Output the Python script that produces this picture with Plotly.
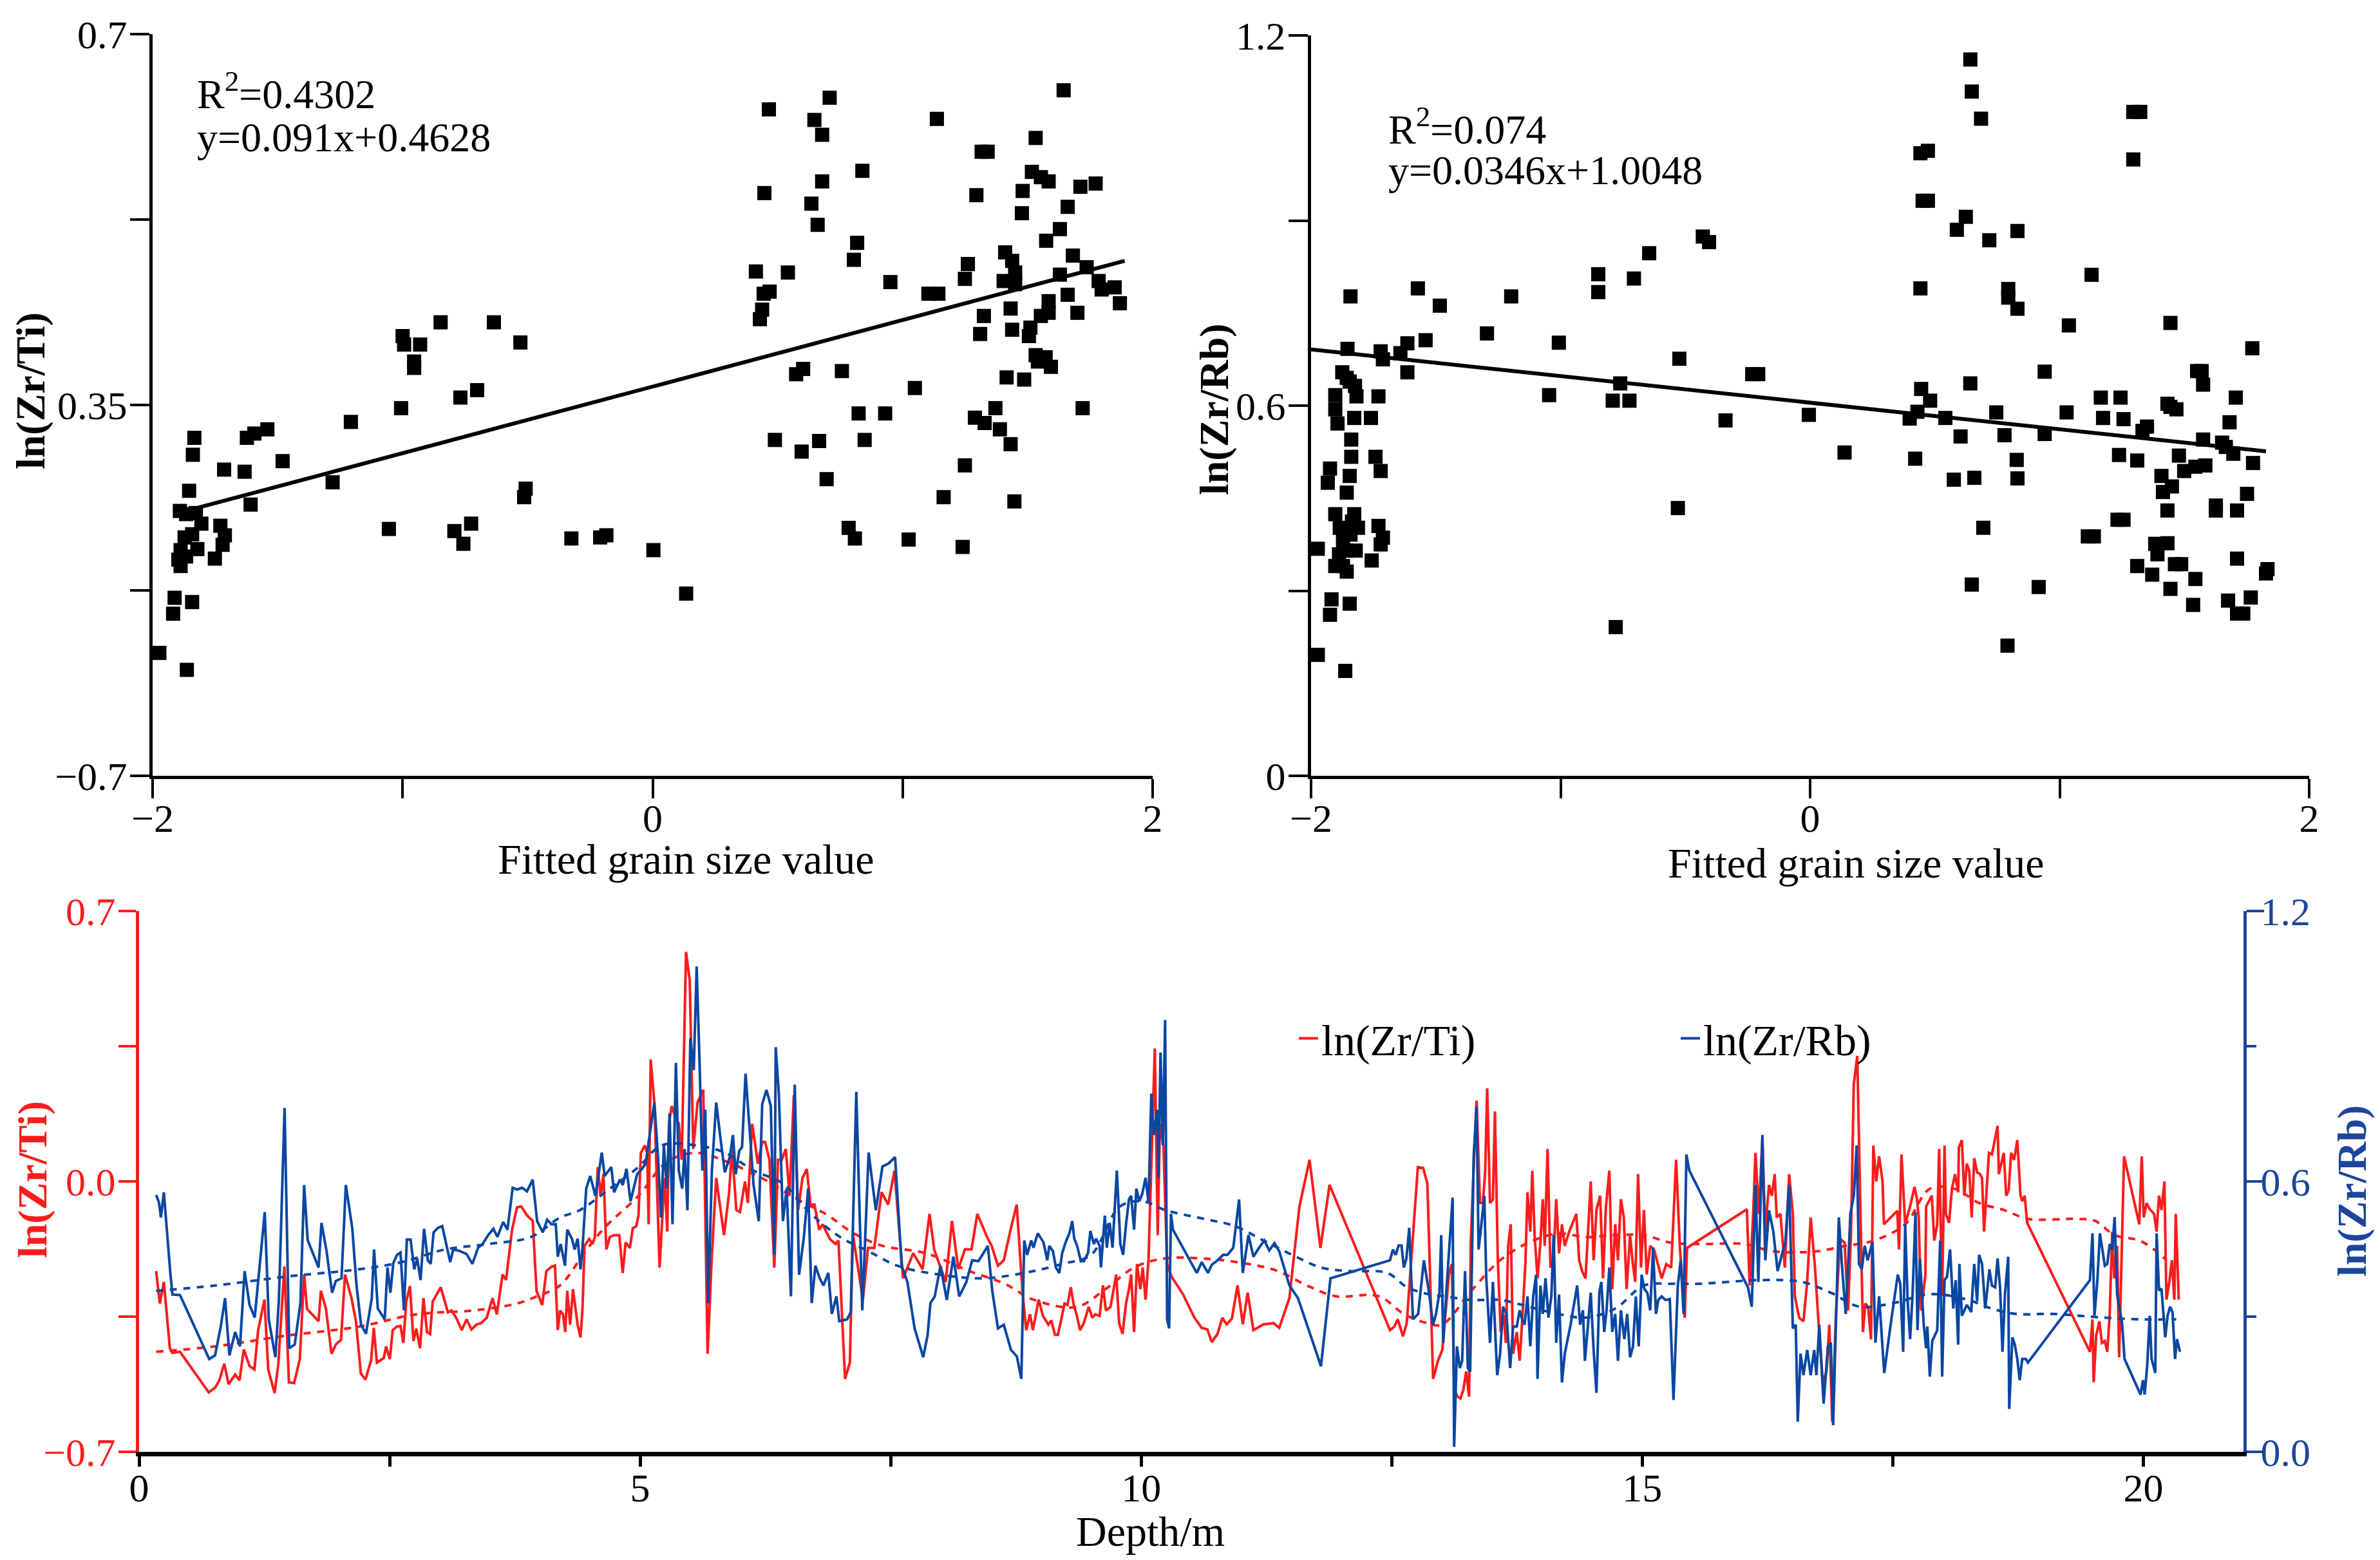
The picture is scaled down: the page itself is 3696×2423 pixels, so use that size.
import plotly.graph_objects as go

# ---------------- data ----------------
# Top-left scatter: fitted grain size value vs ln(Zr/Ti)
ti_scatter = [
    (1.644, 0.647), (0.708, 0.640), (0.465, 0.629), (1.137, 0.620), (0.647, 0.619), (0.678, 0.605),
    (1.532, 0.602), (1.316, 0.589), (1.340, 0.589), (0.839, 0.571), (1.517, 0.570), (1.553, 0.565),
    (1.584, 0.561), (0.678, 0.561), (1.772, 0.559), (1.711, 0.556), (1.480, 0.552), (0.447, 0.550),
    (1.295, 0.548), (0.635, 0.540), (1.660, 0.537), (1.477, 0.531), (0.660, 0.520), (1.629, 0.516),
    (1.574, 0.505), (0.818, 0.503), (1.410, 0.494), (1.681, 0.491), (0.805, 0.487), (1.438, 0.486),
    (1.261, 0.483), (1.736, 0.480), (0.413, 0.476), (0.541, 0.475), (1.450, 0.475), (1.629, 0.473),
    (1.249, 0.469), (1.404, 0.467), (0.951, 0.466), (1.784, 0.467), (1.450, 0.464), (1.848, 0.461),
    (1.796, 0.459), (0.468, 0.457), (1.103, 0.455), (1.143, 0.455), (0.444, 0.455), (1.660, 0.454),
    (1.869, 0.446), (1.584, 0.448), (1.432, 0.441), (1.584, 0.437), (0.438, 0.440), (1.699, 0.437),
    (1.325, 0.434), (1.553, 0.434), (0.429, 0.431), (1.511, 0.423), (1.438, 0.421), (1.310, 0.417),
    (1.505, 0.415), (1.532, 0.397), (1.572, 0.395), (1.593, 0.386), (1.541, 0.391), (0.602, 0.384),
    (0.574, 0.379), (0.757, 0.382), (1.416, 0.376), (1.486, 0.374), (1.049, 0.366), (1.720, 0.347),
    (1.371, 0.347), (0.824, 0.342), (0.930, 0.342), (1.289, 0.338), (1.328, 0.333), (1.389, 0.327),
    (0.489, 0.317), (0.666, 0.316), (0.848, 0.317), (1.432, 0.313), (0.596, 0.306), (1.249, 0.293),
    (0.696, 0.280), (1.164, 0.263), (1.447, 0.259), (0.784, 0.234), (0.809, 0.224), (1.024, 0.223),
    (1.240, 0.216),
    (-0.848, 0.428), (-0.635, 0.428), (-1.000, 0.415), (-0.994, 0.407), (-0.930, 0.407), (-0.529, 0.409),
    (-0.954, 0.391), (-0.954, 0.385), (-0.702, 0.364), (-0.769, 0.357), (-1.006, 0.347), (-1.207, 0.334),
    (-1.480, 0.297), (-1.280, 0.277), (-0.508, 0.271), (-0.514, 0.263), (-1.055, 0.233), (-0.793, 0.231),
    (-0.726, 0.238), (-0.757, 0.219), (-0.325, 0.224), (-0.210, 0.225), (-0.185, 0.227), (0.003, 0.213),
    (0.134, 0.172),
    (-1.833, 0.319), (-1.839, 0.303), (-1.623, 0.319), (-1.593, 0.323), (-1.541, 0.327), (-1.714, 0.289),
    (-1.632, 0.287), (-1.608, 0.256), (-1.854, 0.269), (-1.891, 0.250), (-1.866, 0.247), (-1.827, 0.248),
    (-1.805, 0.238), (-1.729, 0.236), (-1.872, 0.225), (-1.842, 0.228), (-1.711, 0.227), (-1.720, 0.218),
    (-1.888, 0.213), (-1.821, 0.214), (-1.897, 0.204), (-1.866, 0.207), (-1.888, 0.198), (-1.751, 0.205),
    (-1.912, 0.168), (-1.842, 0.164), (-1.918, 0.153), (-1.973, 0.116), (-1.863, 0.100),
]
ti_fit_x = [-1.851, 1.888]
ti_fit_y = [0.251, 0.486]

# Top-right scatter: fitted grain size value vs ln(Zr/Rb)
rb_scatter = [
    (0.642, 1.161), (0.648, 1.109), (0.685, 1.065), (1.295, 1.076), (1.323, 1.076), (1.295, 0.999),
    (0.442, 1.009), (0.472, 1.013), (0.451, 0.932), (0.472, 0.932), (0.624, 0.906), (0.588, 0.885),
    (0.831, 0.883), (0.718, 0.868), (-0.430, 0.874), (-0.405, 0.865), (-0.645, 0.847), (-0.849, 0.813),
    (-0.706, 0.806), (-0.849, 0.784), (1.128, 0.812), (0.442, 0.790), (-1.572, 0.790), (0.794, 0.789),
    (-1.842, 0.777), (-1.198, 0.777), (0.794, 0.775), (-1.484, 0.762), (0.831, 0.757), (1.037, 0.730),
    (1.444, 0.734), (-1.295, 0.717), (-1.541, 0.706), (-1.007, 0.702), (-1.614, 0.701), (1.772, 0.693),
    (-1.854, 0.692), (-1.721, 0.688), (-1.642, 0.685), (-1.712, 0.675), (-0.524, 0.676), (-1.614, 0.654),
    (-1.875, 0.654), (-1.857, 0.645), (0.940, 0.655), (-0.232, 0.651), (-0.208, 0.651), (1.551, 0.656),
    (1.569, 0.656), (-1.845, 0.639), (-1.824, 0.632), (0.642, 0.636), (-0.761, 0.636), (1.575, 0.634),
    (0.445, 0.627), (-1.903, 0.617), (-1.818, 0.615), (-1.730, 0.615), (-1.046, 0.617), (1.165, 0.613),
    (1.244, 0.613), (1.706, 0.613), (0.481, 0.608), (-0.791, 0.608), (-0.724, 0.608), (-1.903, 0.594),
    (1.432, 0.603), (1.468, 0.594), (1.444, 0.598), (0.430, 0.590), (0.746, 0.589), (1.028, 0.589),
    (-0.005, 0.585), (-1.827, 0.580), (-1.760, 0.580), (0.542, 0.580), (0.399, 0.579), (1.174, 0.580),
    (1.256, 0.578), (-0.339, 0.576), (-1.894, 0.571), (1.350, 0.566), (1.332, 0.559), (1.681, 0.573),
    (0.940, 0.554), (0.603, 0.550), (0.779, 0.552), (-1.839, 0.545), (1.575, 0.545), (1.651, 0.540),
    (1.666, 0.533), (1.696, 0.522), (0.138, 0.524), (0.421, 0.514), (-1.839, 0.517), (-1.742, 0.517),
    (1.238, 0.520), (1.478, 0.519), (0.828, 0.512), (1.311, 0.511), (1.775, 0.507), (-1.924, 0.498),
    (-1.721, 0.494), (1.499, 0.494), (1.544, 0.501), (1.584, 0.503), (-1.845, 0.486), (1.408, 0.486),
    (0.576, 0.480), (0.658, 0.483), (0.831, 0.482), (-1.933, 0.475), (1.414, 0.460), (-1.857, 0.459),
    (1.450, 0.469), (1.751, 0.457), (-0.530, 0.434), (1.432, 0.430), (1.626, 0.438), (1.711, 0.430),
    (-1.903, 0.424), (-1.827, 0.424), (1.232, 0.415), (1.256, 0.415), (-1.836, 0.412), (1.626, 0.430),
    (0.694, 0.402), (-1.885, 0.402), (-1.812, 0.402), (-1.730, 0.405), (-1.842, 0.391), (-1.712, 0.386),
    (1.113, 0.388), (1.137, 0.388), (-1.872, 0.380), (-1.721, 0.375), (1.383, 0.376), (1.432, 0.377),
    (-1.973, 0.368), (-1.857, 0.365), (-1.821, 0.365), (-1.888, 0.359), (1.392, 0.359), (-1.757, 0.349),
    (1.711, 0.352), (-1.903, 0.340), (-1.872, 0.340), (1.311, 0.340), (1.462, 0.343), (1.487, 0.343),
    (1.833, 0.335), (1.827, 0.328), (-1.857, 0.331), (1.371, 0.326), (1.544, 0.319), (0.648, 0.310),
    (0.916, 0.306), (1.444, 0.303), (-1.918, 0.286), (1.675, 0.284), (1.766, 0.289), (-1.845, 0.279),
    (1.535, 0.277), (-1.924, 0.261), (1.711, 0.263), (1.736, 0.263), (-0.779, 0.241), (0.791, 0.211),
    (-1.973, 0.196), (-1.863, 0.170),
]
rb_fit_x = [-2.0, 1.827]
rb_fit_y = [0.691, 0.526]

# Bottom: depth profile of ln(Zr/Ti)
zr_ti_profile = [
    (0.17, -0.232), (0.207, -0.316), (0.247, -0.26), (0.307, -0.432), (0.333, -0.444), (0.408, -0.441),
    (0.695, -0.546), (0.758, -0.534), (0.801, -0.515), (0.850, -0.472), (0.893, -0.525), (0.959, -0.50),
    (1.002, -0.515), (1.045, -0.435), (1.102, -0.478), (1.151, -0.487), (1.188, -0.385), (1.251, -0.306),
    (1.289, -0.487), (1.352, -0.548), (1.389, -0.474), (1.45, -0.22), (1.495, -0.52), (1.547, -0.522),
    (1.604, -0.46), (1.647, -0.241), (1.676, -0.33), (1.791, -0.362), (1.814, -0.283), (1.865, -0.33),
    (1.92, -0.446), (1.963, -0.422), (2.015, -0.41), (2.055, -0.241), (2.12, -0.302), (2.164, -0.362),
    (2.213, -0.497), (2.259, -0.513), (2.316, -0.462), (2.342, -0.379), (2.373, -0.469), (2.442, -0.457),
    (2.465, -0.427), (2.502, -0.46), (2.531, -0.385), (2.571, -0.376), (2.609, -0.374), (2.637, -0.418),
    (2.666, -0.311), (2.703, -0.271), (2.738, -0.413), (2.766, -0.381), (2.804, -0.432), (2.838, -0.302),
    (2.873, -0.39), (2.904, -0.395), (2.93, -0.311), (3.01, -0.274), (3.082, -0.339), (3.117, -0.334),
    (3.168, -0.355), (3.22, -0.385), (3.268, -0.357), (3.317, -0.383), (3.369, -0.37), (3.412, -0.367),
    (3.469, -0.353), (3.527, -0.302), (3.57, -0.344), (3.627, -0.241), (3.662, -0.255), (3.722, -0.125),
    (3.771, -0.067), (3.814, -0.065), (3.871, -0.088), (3.928, -0.102), (3.966, -0.283), (4.023, -0.32),
    (4.064, -0.232), (4.115, -0.221), (4.15, -0.218), (4.178, -0.385), (4.201, -0.334), (4.23, -0.344),
    (4.253, -0.39), (4.273, -0.283), (4.301, -0.371), (4.33, -0.279), (4.376, -0.371), (4.405, -0.404),
    (4.425, -0.33), (4.445, -0.167), (4.491, -0.149), (4.525, -0.162), (4.548, -0.144), (4.577, 0.037),
    (4.606, -0.037), (4.634, 0.019), (4.663, -0.176), (4.697, -0.144), (4.74, -0.139), (4.792, -0.139),
    (4.826, -0.237), (4.855, -0.158), (4.898, -0.172), (4.927, -0.121), (4.961, -0.116), (4.984, -0.088),
    (5.007, 0.074), (5.047, 0.093), (5.07, 0.074), (5.085, -0.111), (5.105, 0.316), (5.142, 0.204),
    (5.194, -0.223), (5.243, 0.009), (5.271, -0.13), (5.288, 0.149), (5.314, 0.195), (5.352, 0.167),
    (5.386, 0.149), (5.415, 0.056), (5.458, 0.594), (5.495, 0.52), (5.53, 0.084), (5.573, 0.204),
    (5.63, 0.237), (5.673, -0.446), (5.716, -0.19), (5.759, 0.009), (5.837, -0.139), (5.888, -0.028),
    (5.917, 0.084), (5.96, -0.074), (5.997, -0.079), (6.046, 0.0), (6.075, -0.056), (6.118, 0.149),
    (6.175, 0.046), (6.218, 0.102), (6.247, 0.102), (6.29, 0.056), (6.339, -0.223), (6.376, 0.056),
    (6.413, 0.056), (6.454, 0.084), (6.491, -0.037), (6.534, 0.223), (6.577, -0.074), (6.62, 0.009),
    (6.663, 0.032), (6.7, -0.06), (6.74, -0.06), (6.786, -0.125), (6.821, -0.111), (6.893, -0.149),
    (6.95, -0.162), (6.979, -0.153), (7.045, -0.511), (7.093, -0.469), (7.122, -0.135), (7.223, -0.306),
    (7.274, -0.172), (7.337, -0.172), (7.409, -0.028), (7.475, -0.06), (7.538, 0.028), (7.624, -0.251),
    (7.725, -0.186), (7.819, -0.227), (7.888, -0.084), (7.934, -0.176), (8.049, -0.26), (8.112, -0.102),
    (8.175, -0.227), (8.241, -0.176), (8.307, -0.176), (8.365, -0.084), (8.462, -0.144), (8.508, -0.167),
    (8.571, -0.218), (8.629, -0.204), (8.7, -0.121), (8.758, -0.06), (8.816, -0.288), (8.853, -0.385),
    (8.89, -0.344), (8.919, -0.385), (8.977, -0.306), (9.02, -0.348), (9.074, -0.371), (9.103, -0.36),
    (9.14, -0.397), (9.169, -0.397), (9.206, -0.353), (9.235, -0.316), (9.264, -0.32), (9.298, -0.274),
    (9.327, -0.32), (9.355, -0.344), (9.39, -0.385), (9.427, -0.367), (9.476, -0.325), (9.513, -0.353),
    (9.542, -0.344), (9.585, -0.348), (9.619, -0.269), (9.648, -0.334), (9.694, -0.325), (9.723, -0.283),
    (9.751, -0.241), (9.78, -0.367), (9.814, -0.395), (9.849, -0.316), (9.878, -0.279), (9.9, -0.241),
    (9.929, -0.39), (9.958, -0.214), (9.992, -0.279), (10.015, -0.223), (10.044, -0.306), (10.073, -0.204),
    (10.101, 0.037), (10.136, 0.344), (10.165, -0.139), (10.187, 0.149), (10.222, 0.093), (10.259, -0.214),
    (10.302, -0.246), (10.417, -0.292), (10.532, -0.353), (10.604, -0.379), (10.661, -0.383), (10.704, -0.416),
    (10.761, -0.395), (10.81, -0.353), (10.853, -0.37), (10.905, -0.355), (10.962, -0.269), (11.014, -0.37),
    (11.063, -0.288), (11.12, -0.385), (11.22, -0.37), (11.321, -0.367), (11.378, -0.379), (11.479, -0.302),
    (11.579, -0.065), (11.68, 0.056), (11.789, -0.172), (11.88, -0.009), (12.483, -0.385), (12.526, -0.376),
    (12.561, -0.357), (12.612, -0.401), (12.65, -0.367), (12.727, -0.084), (12.761, 0.037), (12.813, 0.035),
    (12.856, -0.005), (12.913, -0.511), (12.962, -0.464), (13.005, -0.436), (13.034, -0.353), (13.071, -0.241),
    (13.1, -0.214), (13.123, -0.539), (13.157, -0.557), (13.186, -0.562), (13.215, -0.539), (13.243, -0.492),
    (13.272, -0.557), (13.289, -0.158), (13.318, 0.037), (13.347, 0.209), (13.381, -0.056), (13.41, -0.056),
    (13.433, 0.028), (13.453, 0.241), (13.481, -0.056), (13.51, -0.046), (13.53, 0.181), (13.559, -0.204),
    (13.588, -0.39), (13.616, -0.344), (13.639, -0.418), (13.662, -0.167), (13.688, -0.111), (13.711, -0.446),
    (13.748, -0.39), (13.777, -0.464), (13.806, -0.344), (13.834, -0.214), (13.855, -0.028), (13.883, -0.13),
    (13.903, 0.028), (13.926, -0.139), (13.955, -0.251), (13.984, -0.158), (14.007, -0.046), (14.027, -0.167),
    (14.055, 0.084), (14.084, -0.223), (14.113, -0.204), (14.142, -0.046), (14.17, -0.186), (14.199, -0.111),
    (14.227, -0.167), (14.271, -0.13), (14.342, -0.084), (14.371, -0.204), (14.4, -0.232), (14.434, -0.251),
    (14.463, -0.111), (14.486, 0.0), (14.515, -0.204), (14.543, -0.074), (14.58, -0.037), (14.609, -0.251),
    (14.638, -0.065), (14.672, 0.028), (14.701, -0.279), (14.73, -0.111), (14.758, -0.204), (14.787, -0.046),
    (14.816, -0.093), (14.844, -0.279), (14.879, -0.139), (14.902, -0.204), (14.93, -0.26), (14.959, 0.019),
    (14.988, -0.223), (15.017, -0.074), (15.045, -0.241), (15.08, -0.167), (15.117, -0.176), (15.146, -0.204),
    (15.194, -0.251), (15.24, -0.214), (15.289, -0.223), (15.338, 0.056), (15.375, -0.167), (15.395, -0.241),
    (15.424, -0.353), (15.447, -0.172), (16.044, -0.072), (16.072, -0.269), (16.107, -0.084), (16.13, 0.074),
    (16.164, -0.084), (16.199, 0.111), (16.227, -0.13), (16.265, -0.009), (16.293, -0.037), (16.322, 0.019),
    (16.342, -0.093), (16.379, -0.084), (16.423, -0.223), (16.466, 0.019), (16.503, -0.084), (16.523, -0.297),
    (16.566, -0.353), (16.609, -0.362), (16.646, -0.26), (16.681, -0.093), (16.724, -0.223), (16.761, -0.371),
    (16.801, -0.52), (16.839, -0.492), (16.867, -0.371), (16.896, -0.622), (16.933, -0.344), (16.974, -0.149),
    (17.019, -0.158), (17.054, -0.334), (17.083, -0.139), (17.111, 0.251), (17.146, 0.325), (17.175, -0.046),
    (17.203, -0.39), (17.226, -0.316), (17.255, -0.325), (17.283, -0.409), (17.306, 0.093), (17.335, 0.0),
    (17.364, 0.065), (17.398, 0.0), (17.412, -0.111), (17.545, -0.076), (17.562, -0.176), (17.587, 0.07),
    (17.624, -0.111), (17.673, -0.065), (17.717, -0.014), (17.742, -0.046), (17.759, -0.093), (17.784, -0.334),
    (17.826, -0.241), (17.833, -0.065), (17.89, -0.037), (17.914, -0.153), (17.944, -0.111), (17.963, 0.084),
    (17.993, -0.297), (18.017, 0.093), (18.03, -0.084), (18.062, -0.107), (18.091, -0.019), (18.121, 0.019),
    (18.153, -0.028), (18.16, 0.088), (18.19, 0.107), (18.214, -0.037), (18.239, 0.046), (18.263, 0.028),
    (18.288, -0.093), (18.313, 0.06), (18.342, 0.023), (18.367, 0.02), (18.391, 0.009), (18.411, -0.13),
    (18.436, -0.019), (18.46, 0.074), (18.49, 0.07), (18.546, 0.144), (18.559, 0.019), (18.608, 0.074),
    (18.632, -0.037), (18.657, -0.023), (18.681, 0.074), (18.711, 0.056), (18.743, 0.107), (18.775, -0.037),
    (18.792, -0.051), (18.817, -0.037), (18.841, -0.107), (19.468, -0.441), (19.493, -0.357), (19.505, -0.52),
    (19.53, -0.399), (19.562, -0.362), (19.587, -0.418), (19.616, -0.413), (19.641, -0.441), (19.665, -0.344),
    (19.69, -0.13), (19.71, -0.251), (19.739, -0.167), (19.759, -0.455), (19.783, -0.204), (19.808, 0.065),
    (19.96, -0.111), (19.985, 0.065), (20.004, -0.093), (20.034, -0.056), (20.059, -0.07), (20.108, -0.084),
    (20.133, -0.13), (20.157, -0.037), (20.182, -0.074), (20.211, 0.0), (20.231, -0.306), (20.26, -0.26),
    (20.285, -0.204), (20.31, -0.306), (20.324, -0.084), (20.354, -0.306),
]

# Bottom: depth profile of ln(Zr/Rb)
zr_rb_profile = [
    (0.17, 0.57), (0.198, 0.554), (0.218, 0.52), (0.247, 0.576), (0.313, 0.393), (0.333, 0.349),
    (0.408, 0.348), (0.7, 0.206), (0.758, 0.214), (0.815, 0.278), (0.858, 0.341), (0.901, 0.214),
    (0.959, 0.266), (1.007, 0.234), (1.053, 0.401), (1.102, 0.326), (1.154, 0.298), (1.203, 0.417),
    (1.254, 0.532), (1.294, 0.294), (1.36, 0.21), (1.395, 0.337), (1.452, 0.763), (1.498, 0.23),
    (1.553, 0.238), (1.61, 0.33), (1.647, 0.592), (1.682, 0.47), (1.791, 0.409), (1.82, 0.508),
    (1.871, 0.445), (1.926, 0.353), (1.963, 0.379), (2.02, 0.385), (2.063, 0.592), (2.127, 0.497),
    (2.17, 0.369), (2.215, 0.282), (2.264, 0.262), (2.322, 0.341), (2.345, 0.449), (2.382, 0.318),
    (2.451, 0.294), (2.479, 0.409), (2.508, 0.353), (2.537, 0.419), (2.574, 0.437), (2.609, 0.442),
    (2.643, 0.314), (2.672, 0.471), (2.709, 0.471), (2.746, 0.405), (2.775, 0.429), (2.809, 0.381),
    (2.844, 0.495), (2.881, 0.425), (2.91, 0.417), (2.939, 0.487), (2.982, 0.497), (3.025, 0.501),
    (3.105, 0.421), (3.134, 0.449), (3.197, 0.446), (3.268, 0.439), (3.326, 0.417), (3.383, 0.453),
    (3.427, 0.461), (3.484, 0.481), (3.535, 0.495), (3.576, 0.477), (3.633, 0.51), (3.676, 0.493),
    (3.728, 0.586), (3.771, 0.582), (3.823, 0.586), (3.871, 0.578), (3.928, 0.604), (3.972, 0.512),
    (4.029, 0.487), (4.072, 0.515), (4.115, 0.505), (4.158, 0.505), (4.178, 0.433), (4.207, 0.461),
    (4.25, 0.413), (4.273, 0.493), (4.319, 0.473), (4.347, 0.449), (4.376, 0.473), (4.405, 0.405),
    (4.425, 0.453), (4.462, 0.584), (4.502, 0.612), (4.554, 0.568), (4.617, 0.664), (4.646, 0.612),
    (4.712, 0.632), (4.74, 0.576), (4.798, 0.604), (4.827, 0.592), (4.864, 0.628), (4.904, 0.556),
    (4.97, 0.616), (5.019, 0.628), (5.056, 0.64), (5.085, 0.688), (5.142, 0.775), (5.18, 0.648),
    (5.208, 0.52), (5.237, 0.68), (5.266, 0.584), (5.294, 0.751), (5.323, 0.505), (5.357, 0.863),
    (5.386, 0.624), (5.42, 0.584), (5.444, 0.672), (5.472, 0.536), (5.501, 0.918), (5.535, 0.847),
    (5.564, 1.077), (5.593, 0.863), (5.621, 0.624), (5.65, 0.759), (5.679, 0.33), (5.716, 0.624),
    (5.759, 0.775), (5.802, 0.695), (5.845, 0.62), (5.897, 0.656), (5.926, 0.703), (5.954, 0.616),
    (5.989, 0.668), (6.017, 0.676), (6.052, 0.839), (6.104, 0.68), (6.132, 0.592), (6.184, 0.512),
    (6.218, 0.771), (6.261, 0.803), (6.304, 0.767), (6.339, 0.437), (6.353, 0.898), (6.385, 0.791),
    (6.425, 0.512), (6.462, 0.584), (6.505, 0.345), (6.543, 0.815), (6.586, 0.393), (6.634, 0.477),
    (6.677, 0.584), (6.712, 0.33), (6.749, 0.413), (6.792, 0.385), (6.829, 0.369), (6.878, 0.397),
    (6.913, 0.306), (6.959, 0.345), (6.987, 0.29), (7.065, 0.294), (7.102, 0.31), (7.157, 0.799),
    (7.217, 0.314), (7.28, 0.664), (7.352, 0.536), (7.418, 0.633), (7.48, 0.64), (7.544, 0.654),
    (7.61, 0.413), (7.667, 0.377), (7.739, 0.274), (7.825, 0.21), (7.868, 0.258), (7.897, 0.33),
    (7.94, 0.345), (7.997, 0.413), (8.06, 0.337), (8.126, 0.433), (8.184, 0.345), (8.256, 0.377),
    (8.313, 0.425), (8.376, 0.423), (8.47, 0.457), (8.514, 0.357), (8.571, 0.274), (8.629, 0.282),
    (8.701, 0.226), (8.759, 0.212), (8.804, 0.162), (8.833, 0.469), (8.862, 0.437), (8.902, 0.469),
    (8.925, 0.453), (8.968, 0.485), (9.025, 0.465), (9.063, 0.425), (9.083, 0.457), (9.12, 0.445),
    (9.149, 0.409), (9.183, 0.397), (9.212, 0.441), (9.246, 0.465), (9.284, 0.485), (9.312, 0.512),
    (9.332, 0.473), (9.361, 0.457), (9.398, 0.423), (9.427, 0.423), (9.47, 0.441), (9.493, 0.49),
    (9.528, 0.461), (9.55, 0.473), (9.585, 0.457), (9.599, 0.409), (9.637, 0.524), (9.657, 0.453),
    (9.686, 0.508), (9.714, 0.453), (9.757, 0.624), (9.792, 0.461), (9.82, 0.437), (9.849, 0.505),
    (9.878, 0.56), (9.9, 0.568), (9.929, 0.493), (9.952, 0.584), (9.981, 0.556), (10.01, 0.572),
    (10.044, 0.608), (10.073, 0.552), (10.101, 0.795), (10.125, 0.703), (10.159, 0.759), (10.173, 0.608),
    (10.193, 0.886), (10.216, 0.68), (10.239, 0.958), (10.259, 0.294), (10.279, 0.274), (10.297, 0.528),
    (10.317, 0.493), (10.555, 0.397), (10.604, 0.421), (10.667, 0.397), (10.704, 0.415), (10.761, 0.425),
    (10.819, 0.437), (10.862, 0.437), (10.919, 0.453), (10.977, 0.56), (11.014, 0.397), (11.071, 0.481),
    (11.12, 0.433), (11.177, 0.453), (11.229, 0.469), (11.278, 0.447), (11.33, 0.463), (11.378, 0.445),
    (11.479, 0.369), (11.565, 0.341), (11.794, 0.19), (11.889, 0.385), (12.483, 0.425), (12.512, 0.449),
    (12.54, 0.437), (12.569, 0.458), (12.598, 0.458), (12.621, 0.409), (12.647, 0.429), (12.675, 0.497),
    (12.712, 0.294), (12.764, 0.306), (12.821, 0.425), (12.87, 0.357), (12.913, 0.282), (12.942, 0.306),
    (12.976, 0.353), (12.994, 0.481), (13.014, 0.242), (13.042, 0.345), (13.071, 0.433), (13.108, 0.564),
    (13.123, 0.011), (13.151, 0.234), (13.18, 0.186), (13.203, 0.202), (13.232, 0.401), (13.26, 0.186),
    (13.283, 0.178), (13.318, 0.656), (13.347, 0.767), (13.367, 0.449), (13.395, 0.505), (13.424, 0.568),
    (13.444, 0.385), (13.481, 0.242), (13.51, 0.377), (13.553, 0.17), (13.582, 0.218), (13.611, 0.322),
    (13.645, 0.306), (13.682, 0.186), (13.711, 0.278), (13.748, 0.278), (13.777, 0.314), (13.806, 0.29),
    (13.826, 0.282), (13.855, 0.345), (13.883, 0.234), (13.912, 0.345), (13.941, 0.393), (13.955, 0.162),
    (13.984, 0.369), (14.007, 0.306), (14.035, 0.385), (14.064, 0.298), (14.093, 0.345), (14.116, 0.481),
    (14.142, 0.242), (14.17, 0.349), (14.199, 0.154), (14.227, 0.218), (14.285, 0.282), (14.351, 0.369),
    (14.38, 0.282), (14.408, 0.314), (14.428, 0.202), (14.457, 0.282), (14.486, 0.353), (14.515, 0.226),
    (14.543, 0.131), (14.572, 0.353), (14.592, 0.377), (14.621, 0.266), (14.644, 0.314), (14.672, 0.409),
    (14.701, 0.266), (14.73, 0.306), (14.758, 0.202), (14.787, 0.314), (14.822, 0.25), (14.85, 0.306),
    (14.879, 0.21), (14.908, 0.234), (14.936, 0.345), (14.965, 0.234), (14.994, 0.393), (15.022, 0.361),
    (15.051, 0.353), (15.08, 0.314), (15.108, 0.453), (15.137, 0.306), (15.16, 0.337), (15.194, 0.345),
    (15.232, 0.337), (15.275, 0.339), (15.312, 0.115), (15.355, 0.369), (15.384, 0.425), (15.413, 0.306),
    (15.441, 0.66), (15.47, 0.624), (16.055, 0.365), (16.093, 0.322), (16.13, 0.592), (16.159, 0.377),
    (16.199, 0.703), (16.228, 0.425), (16.265, 0.536), (16.308, 0.489), (16.351, 0.401), (16.388, 0.433),
    (16.428, 0.465), (16.466, 0.592), (16.503, 0.274), (16.532, 0.282), (16.552, 0.067), (16.58, 0.218),
    (16.609, 0.17), (16.646, 0.226), (16.681, 0.17), (16.716, 0.226), (16.738, 0.17), (16.767, 0.282),
    (16.81, 0.107), (16.853, 0.234), (16.882, 0.242), (16.905, 0.059), (16.933, 0.282), (16.962, 0.52),
    (16.997, 0.401), (17.031, 0.306), (17.054, 0.409), (17.077, 0.528), (17.111, 0.568), (17.14, 0.68),
    (17.163, 0.417), (17.191, 0.405), (17.22, 0.457), (17.249, 0.425), (17.298, 0.465), (17.327, 0.242),
    (17.364, 0.345), (17.415, 0.175), (17.476, 0.278), (17.55, 0.393), (17.575, 0.373), (17.604, 0.222),
    (17.624, 0.505), (17.649, 0.334), (17.673, 0.25), (17.698, 0.35), (17.727, 0.532), (17.747, 0.27),
    (17.771, 0.429), (17.808, 0.286), (17.833, 0.23), (17.845, 0.278), (17.87, 0.167), (17.894, 0.246),
    (17.944, 0.27), (17.973, 0.469), (17.993, 0.167), (18.017, 0.381), (18.042, 0.389), (18.072, 0.449),
    (18.104, 0.318), (18.128, 0.381), (18.153, 0.238), (18.165, 0.417), (18.19, 0.302), (18.239, 0.326),
    (18.263, 0.318), (18.283, 0.31), (18.313, 0.417), (18.342, 0.334), (18.362, 0.437), (18.391, 0.417),
    (18.423, 0.318), (18.465, 0.405), (18.49, 0.369), (18.522, 0.365), (18.546, 0.429), (18.571, 0.365),
    (18.595, 0.222), (18.62, 0.35), (18.652, 0.433), (18.662, 0.095), (18.694, 0.254), (18.718, 0.238),
    (18.743, 0.206), (18.767, 0.159), (18.792, 0.206), (18.829, 0.206), (18.849, 0.198), (19.468, 0.381),
    (19.493, 0.485), (19.513, 0.302), (19.542, 0.381), (19.567, 0.485), (19.616, 0.413), (19.641, 0.417),
    (19.665, 0.461), (19.69, 0.449), (19.714, 0.521), (19.739, 0.35), (19.788, 0.286), (19.813, 0.206),
    (19.973, 0.127), (19.997, 0.159), (20.014, 0.127), (20.039, 0.191), (20.064, 0.302), (20.083, 0.206),
    (20.12, 0.175), (20.133, 0.485), (20.157, 0.358), (20.182, 0.362), (20.219, 0.254), (20.243, 0.302),
    (20.268, 0.322), (20.292, 0.31), (20.317, 0.206), (20.337, 0.25), (20.366, 0.222),
]

# Smoothed trends (dotted)
zr_ti_trend = [
    (0.17, -0.441), (0.758, -0.427), (1.475, -0.399), (2.193, -0.376), (2.766, -0.344), (3.34, -0.334),
    (3.771, -0.316), (3.972, -0.297), (4.201, -0.269), (4.44, -0.186), (4.64, -0.121), (4.984, -0.037),
    (5.27, 0.051), (5.558, 0.074), (5.817, 0.056), (6.276, 0.0), (6.562, -0.046), (6.85, -0.084),
    (7.136, -0.135), (7.423, -0.167), (7.854, -0.186), (8.284, -0.232), (8.638, -0.265), (8.925, -0.306),
    (9.355, -0.325), (9.642, -0.279), (9.929, -0.223), (10.216, -0.2), (10.647, -0.2), (11.077, -0.214),
    (11.364, -0.232), (11.651, -0.269), (11.938, -0.297), (12.368, -0.297), (12.626, -0.344), (12.856, -0.367),
    (13.0, -0.371), (13.295, -0.283), (13.582, -0.204), (13.869, -0.158), (14.156, -0.135), (14.443, -0.144),
    (14.73, -0.139), (15.017, -0.139), (15.275, -0.158), (15.59, -0.162), (16.021, -0.162), (16.308, -0.181),
    (16.738, -0.181), (17.025, -0.167), (17.312, -0.153), (17.624, -0.111), (17.87, -0.019), (18.116, -0.019),
    (18.362, -0.056), (18.608, -0.074), (18.854, -0.097), (19.346, -0.097), (19.518, -0.102), (19.714, -0.139),
    (19.96, -0.153), (20.133, -0.181), (20.231, -0.204),
]
zr_rb_trend = [
    (0.17, 0.357), (0.758, 0.369), (1.475, 0.389), (2.193, 0.405), (2.623, 0.421), (3.053, 0.449),
    (3.484, 0.461), (3.914, 0.477), (4.201, 0.52), (4.396, 0.536), (4.698, 0.584), (4.984, 0.632),
    (5.214, 0.68), (5.558, 0.68), (5.845, 0.664), (6.132, 0.624), (6.419, 0.596), (6.706, 0.528),
    (6.993, 0.477), (7.28, 0.445), (7.567, 0.413), (7.997, 0.393), (8.428, 0.385), (8.925, 0.401),
    (9.212, 0.417), (9.499, 0.437), (9.786, 0.544), (10.015, 0.556), (10.245, 0.536), (10.647, 0.516),
    (10.934, 0.501), (11.22, 0.469), (11.508, 0.437), (11.794, 0.409), (12.081, 0.401), (12.454, 0.397),
    (12.655, 0.365), (12.885, 0.349), (13.028, 0.345), (13.295, 0.337), (13.582, 0.337), (13.869, 0.322),
    (14.156, 0.306), (14.443, 0.298), (14.73, 0.318), (15.017, 0.369), (15.304, 0.373), (15.59, 0.373),
    (16.164, 0.381), (16.595, 0.377), (16.882, 0.353), (17.169, 0.322), (17.507, 0.33), (17.87, 0.35),
    (18.239, 0.338), (18.485, 0.318), (18.731, 0.306), (19.1, 0.306), (19.592, 0.298), (19.96, 0.294),
    (20.329, 0.294),
]

# Tick labels
gs_ticks = [-2, -1, 0, 1, 2]
gs_ticktext = ["\u22122", "", "0", "", "2"]
ti_ticks = [0, 0.175, 0.35, 0.525, 0.7]
ti_ticktext = ["\u22120.7", "", "0.35", "", "0.7"]
rb_ticks = [0, 0.3, 0.6, 0.9, 1.2]
rb_ticktext = ["0", "", "0.6", "", "1.2"]
depth_ticks = [0, 2.5, 5, 7.5, 10, 12.5, 15, 17.5, 20]
depth_ticktext = ["0", "", "5", "", "10", "", "15", "", "20"]
prof_ti_ticks = [-0.7, -0.35, 0, 0.35, 0.7]
prof_ti_ticktext = ["\u22120.7", "", "0.0", "", "0.7"]
prof_rb_ticks = [0, 0.6, 1.2]
prof_rb_ticktext = ["0.0", "0.6", "1.2"]

# ---------------- layout helpers ----------------
W, H = 3680, 2407
def px(x):
    return (x - 8) / W
def py(y):
    return 1 - (y - 8) / H

RED = "#fc1c1c"
BLUE = "#0a47a3"
BLUE_AX = "#1d459b"
FONT = "Liberation Serif"
FS = 62

def unzip(pairs):
    return [p[0] for p in pairs], [p[1] for p in pairs]

fig = go.Figure()

tx, ty = unzip(ti_scatter)
fig.add_trace(go.Scatter(x=tx, y=ty, mode="markers", xaxis="x", yaxis="y", showlegend=False,
                         marker=dict(symbol="square", size=22, color="black", line=dict(width=0)),
                         cliponaxis=False))
fig.add_trace(go.Scatter(x=ti_fit_x, y=ti_fit_y, mode="lines", xaxis="x", yaxis="y", showlegend=False,
                         line=dict(color="black", width=6)))

rx, ry = unzip(rb_scatter)
fig.add_trace(go.Scatter(x=rx, y=ry, mode="markers", xaxis="x2", yaxis="y2", showlegend=False,
                         marker=dict(symbol="square", size=22, color="black", line=dict(width=0)),
                         cliponaxis=False))
fig.add_trace(go.Scatter(x=rb_fit_x, y=rb_fit_y, mode="lines", xaxis="x2", yaxis="y2", showlegend=False,
                         line=dict(color="black", width=6)))

dx, dv = unzip(zr_ti_profile)
fig.add_trace(go.Scatter(x=dx, y=dv, mode="lines", xaxis="x3", yaxis="y3", name="ln(Zr/Ti)",
                         line=dict(color=RED, width=4)))
tdx, tdv = unzip(zr_ti_trend)
fig.add_trace(go.Scatter(x=tdx, y=tdv, mode="lines", xaxis="x3", yaxis="y3", showlegend=False,
                         line=dict(color=RED, width=4, dash="11px,10px", shape="spline")))
bx, bv = unzip(zr_rb_profile)
fig.add_trace(go.Scatter(x=bx, y=bv, mode="lines", xaxis="x3", yaxis="y4", name="ln(Zr/Rb)",
                         line=dict(color=BLUE, width=4)))
tbx, tbv = unzip(zr_rb_trend)
fig.add_trace(go.Scatter(x=tbx, y=tbv, mode="lines", xaxis="x3", yaxis="y4", showlegend=False,
                         line=dict(color=BLUE, width=4, dash="11px,10px", shape="spline")))

base_ax = dict(showgrid=False, zeroline=False, showline=True, ticks="outside", mirror=False,
               automargin=False, tickmode="array",
               tickfont=dict(family=FONT, size=FS, color="black"))

fig.update_layout(
    template="plotly",
    width=W, height=H, margin=dict(l=0, r=0, t=0, b=0, autoexpand=False),
    paper_bgcolor="white", plot_bgcolor="white",
    font=dict(family=FONT, size=FS, color="black"),
    xaxis=dict(base_ax, domain=[px(237), px(1790)], range=[-2, 2], anchor="y",
               linecolor="black", linewidth=5, tickcolor="black", tickwidth=4, ticklen=30,
               tickvals=gs_ticks, ticktext=gs_ticktext, ticklabelstandoff=-22),
    yaxis=dict(base_ax, domain=[py(1205), py(53)], range=[0, 0.7], anchor="x",
               linecolor="black", linewidth=5, tickcolor="black", tickwidth=4, ticklen=30,
               tickvals=ti_ticks, ticktext=ti_ticktext, ticklabelstandoff=-8),
    xaxis2=dict(base_ax, domain=[px(2036), px(3586)], range=[-2, 2], anchor="y2",
                linecolor="black", linewidth=5, tickcolor="black", tickwidth=4, ticklen=30,
                tickvals=gs_ticks, ticktext=gs_ticktext, ticklabelstandoff=-22),
    yaxis2=dict(base_ax, domain=[py(1205), py(55)], range=[0, 1.2], anchor="x2",
                linecolor="black", linewidth=5, tickcolor="black", tickwidth=4, ticklen=30,
                tickvals=rb_ticks, ticktext=rb_ticktext, ticklabelstandoff=-8),
    xaxis3=dict(base_ax, domain=[px(216), px(3484)], range=[0, 21], anchor="y3",
                linecolor="black", linewidth=7, tickcolor="black", tickwidth=5, ticklen=16,
                tickvals=depth_ticks, ticktext=depth_ticktext, ticklabelstandoff=-20),
    yaxis3=dict(base_ax, domain=[py(2255), py(1415)], range=[-0.7, 0.7], anchor="x3",
                linecolor=RED, linewidth=5, tickcolor=RED, tickwidth=4, ticklen=27,
                tickvals=prof_ti_ticks, ticktext=prof_ti_ticktext, ticklabelstandoff=-8,
                tickfont=dict(family=FONT, size=FS, color=RED)),
    yaxis4=dict(base_ax, range=[0, 1.2], anchor="x3", overlaying="y3", side="right",
                linecolor=BLUE_AX, linewidth=5, tickcolor=BLUE_AX, tickwidth=4, ticklen=27,
                tickvals=prof_rb_ticks, ticktext=prof_rb_ticktext, ticklabelstandoff=-18,
                tickfont=dict(family=FONT, size=FS, color=BLUE_AX),
                minor=dict(tickvals=[0.3, 0.9], ticklen=15, tickwidth=4, tickcolor=BLUE_AX,
                           ticks="outside", showgrid=False)),
    legend=dict(orientation="h", x=px(2012), xanchor="left", y=py(1613), yanchor="middle",
                font=dict(family=FONT, size=68, color="black"), bgcolor="rgba(0,0,0,0)",
                entrywidth=548, itemwidth=30, tracegroupgap=0),
)

ann = []
def add_text(text, x, y, size=66, color="black", angle=0, xanchor="center", bold=False):
    if bold:
        text = "<b>" + text + "</b>"
    ann.append(dict(text=text, x=px(x), y=py(y), xref="paper", yref="paper", showarrow=False,
                    xanchor=xanchor, yanchor="middle", textangle=angle,
                    font=dict(family=FONT, size=size, color=color)))

add_text("ln(Zr/Ti)", 48, 607, size=64, angle=-90, bold=True)
add_text("Fitted grain size value", 1065, 1335)
add_text("R<sup>2</sup>=0.4302", 304, 141, size=64, xanchor="left")
add_text("y=0.091x+0.4628", 304, 213, size=64, xanchor="left")

add_text("ln(Zr/Rb)", 1885, 636, size=64, angle=-90, bold=True)
add_text("Fitted grain size value", 2882, 1340)
add_text("R<sup>2</sup>=0.074", 2154, 196, size=64, xanchor="left")
add_text("y=0.0346x+1.0048", 2154, 265, size=64, xanchor="left")

add_text("ln(Zr/Ti)", 50, 1832, size=64, angle=-90, color=RED, bold=True)
add_text("ln(Zr/Rb)", 3652, 1850, size=64, angle=-90, color=BLUE_AX, bold=True)
add_text("Depth/m", 1786, 2378)

fig.update_layout(annotations=ann)

fig.write_html("out.html")
